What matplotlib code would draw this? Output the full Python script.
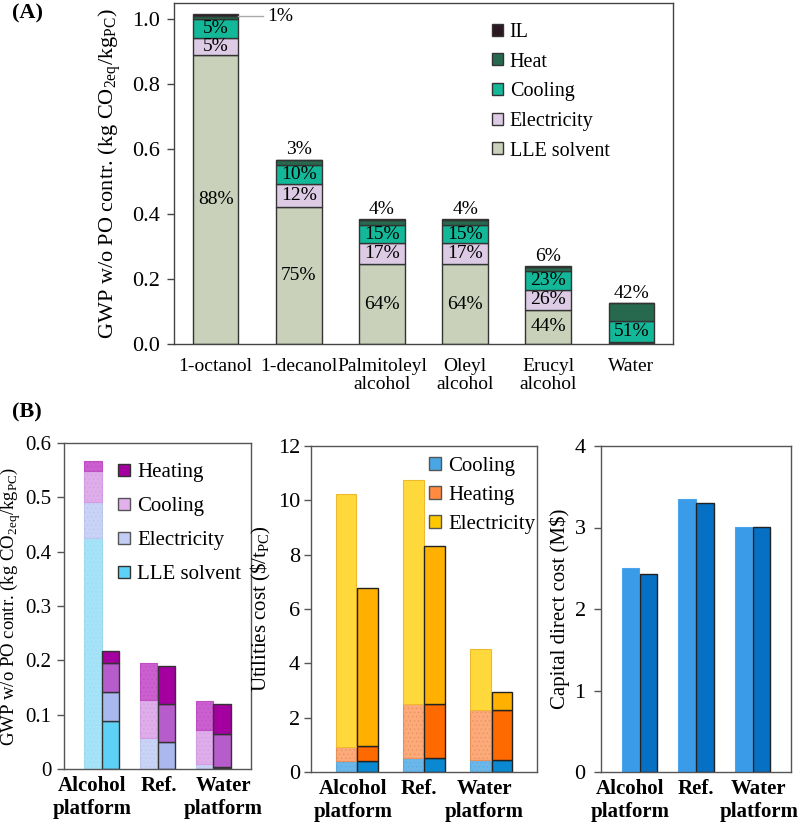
import matplotlib
matplotlib.use("Agg")
import matplotlib.pyplot as plt
from matplotlib.patches import Patch
import numpy as np

plt.rcParams['font.family'] = 'serif'
plt.rcParams['font.serif'] = ['Liberation Serif', 'DejaVu Serif']
plt.rcParams['mathtext.fontset'] = 'custom'
plt.rcParams['mathtext.rm'] = 'Liberation Serif'
plt.rcParams['hatch.linewidth'] = 0.4

# ---------------- Panel A data ----------------
a_categories = ['1-octanol', '1-decanol', 'Palmitoleyl\nalcohol', 'Oleyl\nalcohol', 'Erucyl\nalcohol', 'Water']
a_lle = [0.891, 0.4225, 0.245, 0.245, 0.105, 0.002]
a_elec = [0.052, 0.069, 0.065, 0.065, 0.061, 0.005]
a_cool = [0.057, 0.059, 0.057, 0.057, 0.058, 0.064]
a_heat = [0.011, 0.016, 0.016, 0.016, 0.014, 0.054]
a_il = [0.004, 0.001, 0.001, 0.001, 0.001, 0.0]
a_lbl_lle = ['88%', '75%', '64%', '64%', '44%', '']
a_lbl_elec = ['5%', '12%', '17%', '17%', '26%', '']
a_lbl_cool = ['5%', '10%', '15%', '15%', '23%', '51%']
a_lbl_top = ['1%', '3%', '4%', '4%', '6%', '42%']

# ---------------- Panel B data ----------------
b_groups = ['Alcohol\nplatform', 'Ref.', 'Water\nplatform']
# GWP (light = first bar, dark = second bar)
g_lle_l = [0.426, 0.0, 0.002]
g_elec_l = [0.066, 0.057, 0.007]
g_cool_l = [0.057, 0.070, 0.063]
g_heat_l = [0.018, 0.069, 0.054]
g_lle_d = [0.088, 0.0, 0.001]
g_elec_d = [0.054, 0.050, 0.002]
g_cool_d = [0.054, 0.070, 0.061]
g_heat_d = [0.021, 0.070, 0.055]
# Utilities cost
u_cool_l = [0.42, 0.50, 0.44]
u_heat_l = [0.49, 2.02, 1.86]
u_elec_l = [9.33, 8.24, 2.21]
u_cool_d = [0.40, 0.50, 0.45]
u_heat_d = [0.54, 2.02, 1.85]
u_elec_d = [5.83, 5.79, 0.64]
# Capital direct cost
c_light = [2.506, 3.35, 3.01]
c_dark = [2.43, 3.306, 3.01]

W, H = 799, 824
fig = plt.figure(figsize=(W / 100, H / 100), dpi=100)

def ax_px(l, r, t, b):
    return fig.add_axes([l / W, (H - b) / H, (r - l) / W, (b - t) / H])

# ================= Panel A =================
axA = ax_px(174, 673, 3, 344)
x = np.arange(len(a_categories))
bw = 0.55
ec = '#333333'
colA = {'LLE solvent': '#c9d1bb', 'Electricity': '#ddcbe6', 'Cooling': '#13b898',
        'Heat': '#27694f', 'IL': '#2b1822'}
bottom = np.zeros(len(x))
series = [('LLE solvent', a_lle, a_lbl_lle), ('Electricity', a_elec, a_lbl_elec),
          ('Cooling', a_cool, a_lbl_cool), ('Heat', a_heat, None), ('IL', a_il, None)]
for name, vals, lbls in series:
    vals = np.array(vals)
    axA.bar(x, vals, bw, bottom=bottom, color=colA[name], edgecolor=ec, linewidth=1.0, zorder=2)
    if lbls is not None:
        for i, t in enumerate(lbls):
            if t:
                axA.text(x[i], bottom[i] + vals[i] / 2, t, ha='center', va='center', fontsize=14)
    bottom = bottom + vals
totals = bottom
for i, t in enumerate(a_lbl_top):
    if i == 0:
        axA.plot([x[i] + bw / 2, x[i] + 0.57], [totals[i] - 0.005, totals[i] - 0.005],
                 color='#aaaaaa', lw=1.0, zorder=3)
        axA.text(x[i] + 0.62, totals[i] - 0.008, t, ha='left', va='center', fontsize=14)
    else:
        axA.annotate(t, (x[i], totals[i]), xytext=(0, 1), textcoords='offset points',
                     ha='center', va='bottom', fontsize=14)
axA.set_xlim(-0.5, 5.5)
axA.set_ylim(0, 1.05)
axA.set_yticks(np.arange(0, 1.01, 0.2))
axA.set_yticklabels(['%.1f' % v for v in np.arange(0, 1.01, 0.2)])
axA.set_xticks(x)
axA.set_xticklabels(a_categories, fontsize=14, linespacing=1.1)
axA.tick_params(axis='x', length=0, pad=10)
axA.tick_params(axis='y', labelsize=16, length=5, width=1, color='#444444', direction='out', pad=5)
for s in axA.spines.values():
    s.set_color('#444444')
    s.set_linewidth(1.0)
axA.set_ylabel(r'GWP w/o PO contr. (kg CO$_\mathregular{2eq}$/kg$_\mathregular{PC}$)', fontsize=16, labelpad=6)
handlesA = [Patch(facecolor=colA[n], edgecolor=ec, label=n) for n in ['IL', 'Heat', 'Cooling', 'Electricity', 'LLE solvent']]
axA.legend(handles=handlesA, loc='upper left', bbox_to_anchor=(0.60, 0.995), frameon=False,
           fontsize=14.5, handlelength=0.55, handleheight=0.55, handletextpad=0.35, labelspacing=0.53)

fig.text(12 / W, 1 - 13 / H, '(A)', fontsize=16, fontweight='bold', va='center', ha='left')
fig.text(12 / W, 1 - 412 / H, '(B)', fontsize=16, fontweight='bold', va='center', ha='left')

# ================= Panel B common =================
xb = np.arange(len(b_groups))
off = 0.16
bwb = 0.31

def style_b(ax, pad, label_shift, ysize=16):
    ax.set_xlim(-0.68, 2.68)
    ax.set_xticks(xb + np.array(label_shift))
    ax.set_xticklabels(b_groups, fontsize=15, fontweight='bold', linespacing=1.2)
    ax.tick_params(axis='x', length=0, pad=5)
    ax.tick_params(axis='y', labelsize=ysize, length=5, width=1, color='#555555', direction='out', pad=pad)
    for s in ax.spines.values():
        s.set_color('#555555')
        s.set_linewidth(1.0)

# ---- B1: GWP ----
ax1 = ax_px(64, 251, 443, 769)
col_l = {'LLE': '#a5e3f8', 'Elec': '#c9d3f5', 'Cool': '#deaeea', 'Heat': '#cc5fcf'}
edge_l = {'LLE': '#9fd9f0', 'Elec': '#bcc6ef', 'Cool': '#d49be2', 'Heat': '#bf4fc2'}
col_d = {'LLE': '#5dd1f6', 'Elec': '#a9b8ee', 'Cool': '#b75ccb', 'Heat': '#a4009f'}
bl = np.zeros(3)
bd = np.zeros(3)
for key, vl, vd in [('LLE', g_lle_l, g_lle_d), ('Elec', g_elec_l, g_elec_d),
                    ('Cool', g_cool_l, g_cool_d), ('Heat', g_heat_l, g_heat_d)]:
    vl = np.array(vl); vd = np.array(vd)
    ax1.bar(xb - off, vl, bwb, bottom=bl, color=col_l[key], edgecolor=edge_l[key],
            linewidth=0.8, hatch='....', zorder=2)
    ax1.bar(xb + off, vd, bwb, bottom=bd, color=col_d[key], edgecolor='#333333',
            linewidth=1.0, zorder=2)
    bl += vl; bd += vd
ax1.set_ylim(0, 0.6)
ax1.set_yticks([0, 0.1, 0.2, 0.3, 0.4, 0.5, 0.6])
ax1.set_yticklabels(['0', '0.1', '0.2', '0.3', '0.4', '0.5', '0.6'])
style_b(ax1, 4, [-0.18, 0.02, 0.18], ysize=15)
ax1.set_ylabel(r'GWP w/o PO contr. (kg CO$_\mathregular{2eq}$/kg$_\mathregular{PC}$)', fontsize=13.5)
ax1.yaxis.set_label_coords((23 - 64) / 187, 0.5)
h1 = [Patch(facecolor='#a4009f', edgecolor='#333333', label='Heating'),
      Patch(facecolor='#e2b0ec', edgecolor='#555555', label='Cooling'),
      Patch(facecolor='#c3cdf5', edgecolor='#555555', label='Electricity'),
      Patch(facecolor='#5dd1f6', edgecolor='#333333', label='LLE solvent')]
ax1.legend(handles=h1, loc='upper left', bbox_to_anchor=(0.19, 0.995), frameon=False,
           fontsize=15, handlelength=0.55, handleheight=0.55, handletextpad=0.35, labelspacing=0.72)

# ---- B2: Utilities cost ----
ax2 = ax_px(311, 537, 446, 772)
ucol_l = {'Cool': '#6bb7ea', 'Heat': '#fcaa7a', 'Elec': '#ffd93c'}
uedge_l = {'Cool': '#5aa9e0', 'Heat': '#e8905a', 'Elec': '#f0b830'}
ucol_d = {'Cool': '#0a88d2', 'Heat': '#ff6a00', 'Elec': '#ffb000'}
bl = np.zeros(3)
bd = np.zeros(3)
for key, vl, vd in [('Cool', u_cool_l, u_cool_d), ('Heat', u_heat_l, u_heat_d), ('Elec', u_elec_l, u_elec_d)]:
    vl = np.array(vl); vd = np.array(vd)
    ax2.bar(xb - off, vl, bwb, bottom=bl, color=ucol_l[key], edgecolor=uedge_l[key],
            linewidth=0.8, hatch='....' if key != 'Elec' else None, zorder=2)
    ax2.bar(xb + off, vd, bwb, bottom=bd, color=ucol_d[key], edgecolor='#222222',
            linewidth=1.0, zorder=2)
    bl += vl; bd += vd
ax2.set_ylim(0, 12)
ax2.set_yticks([0, 2, 4, 6, 8, 10, 12])
style_b(ax2, 3, [-0.05, -0.08, -0.1])
ax2.set_ylabel(r'Utilities cost (\$/t$_\mathregular{PC}$)', fontsize=15, labelpad=3)
h2 = [Patch(facecolor='#4aa7e5', edgecolor='#555555', label='Cooling'),
      Patch(facecolor='#ff8a40', edgecolor='#555555', label='Heating'),
      Patch(facecolor='#ffc800', edgecolor='#555555', label='Electricity')]
ax2.legend(handles=h2, loc='upper left', bbox_to_anchor=(0.44, 1.025), frameon=False,
           fontsize=15, handlelength=0.55, handleheight=0.55, handletextpad=0.35, labelspacing=0.48)

# ---- B3: Capital direct cost ----
ax3 = ax_px(601, 791, 446, 772)
ax3.bar(xb - off, c_light, bwb, color='#3a9be9', edgecolor='#4aa5ee', linewidth=0.8, zorder=2)
ax3.bar(xb + off, c_dark, bwb, color='#0670c4', edgecolor='#222222', linewidth=1.0, zorder=2)
ax3.set_ylim(0, 4)
ax3.set_yticks([0, 1, 2, 3, 4])
style_b(ax3, 6, [-0.17, 0.0, 0.11])
ax3.set_ylabel('Capital direct cost (M$)', fontsize=15, labelpad=3)

fig.savefig('out.png', dpi=100)
